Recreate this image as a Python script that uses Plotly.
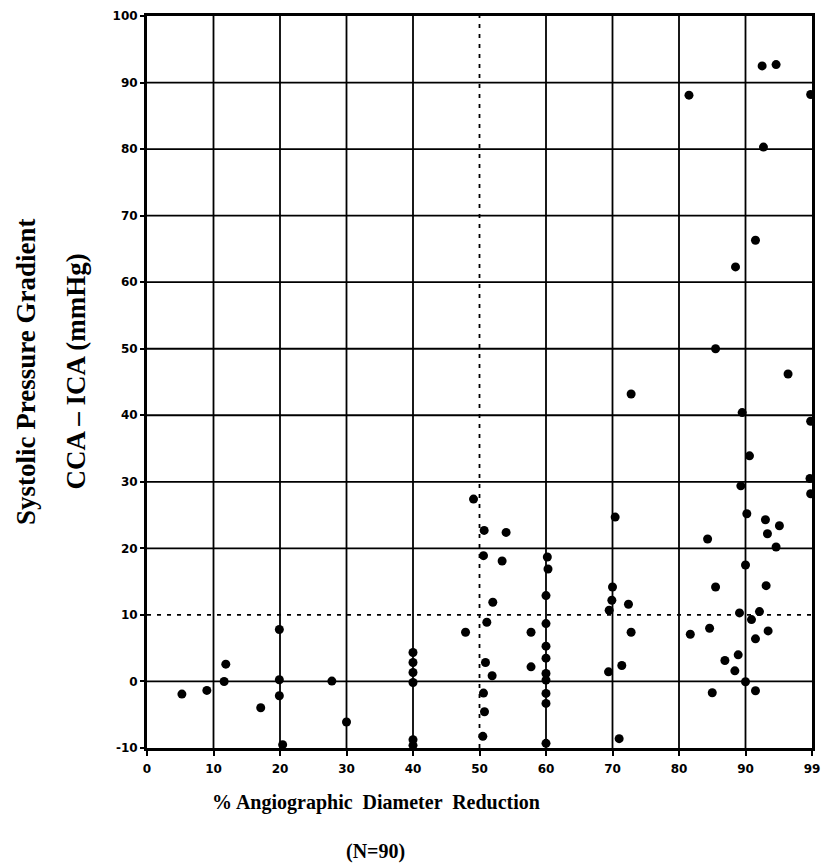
import plotly.graph_objects as go

# % angiographic diameter reduction (axis position; 100 is the "99" label)
diameter_reduction = [
    5.25, 9.0, 11.85, 11.6, 17.1, 19.9, 19.9, 19.9, 20.4, 27.8, 30.0,
    40.0, 40.0, 40.0, 40.0, 40.0, 40.0,
    47.9, 49.1, 50.7, 54.0, 50.6, 53.4, 52.0, 51.1, 50.9, 51.9, 50.6, 50.75, 50.5, 57.75, 57.75,
    60.2, 60.3, 60.0, 60.0, 60.0, 60.0, 60.0, 60.0, 60.0, 60.0, 60.0,
    70.4, 70.0, 69.9, 69.5, 72.4, 72.8, 71.4, 69.4, 71.0, 72.8,
    81.5, 99.8, 92.5, 94.6, 92.7, 91.5, 88.5, 85.5, 96.4, 89.5, 99.8, 90.6, 99.7, 89.3, 99.8,
    90.2, 93.0, 95.1, 93.3, 94.6, 84.3, 90.0, 93.1, 85.5, 81.7, 84.6, 85.0, 86.9, 88.4, 88.9,
    89.1, 90.0, 91.5, 91.5, 90.9, 92.1, 93.4,
]
# Systolic pressure gradient CCA - ICA (mmHg)
pressure_gradient = [
    -1.9, -1.35, 2.6, 0.0, -3.95, 7.8, 0.25, -2.15, -9.5, 0.05, -6.1,
    4.35, 2.85, 1.35, -0.15, -8.75, -9.6,
    7.4, 27.4, 22.7, 22.4, 18.9, 18.1, 11.9, 8.9, 2.85, 0.85, -1.75, -4.55, -8.25, 7.4, 2.2,
    18.7, 16.9, 12.9, 8.7, 5.3, 3.5, 1.2, 0.2, -1.8, -3.3, -9.3,
    24.7, 14.2, 12.2, 10.7, 11.6, 7.4, 2.4, 1.45, -8.6, 43.2,
    88.1, 88.2, 92.5, 92.7, 80.3, 66.3, 62.3, 50.0, 46.2, 40.4, 39.1, 33.9, 30.5, 29.4, 28.2,
    25.2, 24.3, 23.4, 22.2, 20.2, 21.4, 17.5, 14.4, 14.2, 7.1, 8.0, -1.7, 3.15, 1.6, 4.0,
    10.3, -0.05, -1.4, 6.4, 9.3, 10.5, 7.6,
]

x_tick_vals = [0, 10, 20, 30, 40, 50, 60, 70, 80, 90, 100]
x_tick_text = ["0", "10", "20", "30", "40", "50", "60", "70", "80", "90", "99"]
y_tick_vals = [-10, 0, 10, 20, 30, 40, 50, 60, 70, 80, 90, 100]
y_tick_text = ["-10", "0", "10", "20", "30", "40", "50", "60", "70", "80", "90", "100"]

x_grid_solid = [10, 20, 30, 40, 60, 70, 80, 90]
x_grid_dashed = [50]
y_grid_solid = [0, 20, 30, 40, 50, 60, 70, 80, 90]
y_grid_dashed = [10]

fig = go.Figure()
fig.add_trace(go.Scatter(
    x=diameter_reduction, y=pressure_gradient, mode="markers",
    marker=dict(color="black", size=9, line=dict(width=0)),
    showlegend=False, hoverinfo="x+y",
))

shapes = []
for v in x_grid_solid:
    shapes.append(dict(type="line", xref="x", yref="paper", x0=v, x1=v, y0=0, y1=1,
                       line=dict(color="black", width=1.8), layer="below"))
for v in x_grid_dashed:
    shapes.append(dict(type="line", xref="x", yref="paper", x0=v, x1=v, y0=0, y1=1,
                       line=dict(color="black", width=1.8, dash="4px,6px"), layer="below"))
for v in y_grid_solid:
    shapes.append(dict(type="line", xref="paper", yref="y", x0=0, x1=1, y0=v, y1=v,
                       line=dict(color="black", width=1.8), layer="below"))
for v in y_grid_dashed:
    shapes.append(dict(type="line", xref="paper", yref="y", x0=0, x1=1, y0=v, y1=v,
                       line=dict(color="black", width=1.8, dash="4px,6px"), layer="below"))

tick_font = dict(family="DejaVu Sans", size=12, color="black", weight="bold")

fig.update_layout(
    width=821, height=865,
    margin=dict(l=147, r=9, t=16, b=117),
    paper_bgcolor="white", plot_bgcolor="white",
    shapes=shapes,
    xaxis=dict(
        range=[0, 100], tickmode="array", tickvals=x_tick_vals, ticktext=x_tick_text,
        showgrid=False, zeroline=False, showline=True, linewidth=3, linecolor="black",
        mirror=True, ticks="outside", ticklen=5, tickwidth=1.5, tickcolor="black",
        tickfont=tick_font, ticklabelstandoff=3, automargin=False,
        ticklabeloverflow="allow",
    ),
    yaxis=dict(
        range=[-10, 100], tickmode="array", tickvals=y_tick_vals, ticktext=y_tick_text,
        showgrid=False, zeroline=False, showline=True, linewidth=3, linecolor="black",
        mirror=True, ticks="outside", ticklen=4, tickwidth=1.5, tickcolor="black",
        tickfont=tick_font, automargin=False, ticklabeloverflow="allow",
    ),
    annotations=[
        dict(text="<b>% Angiographic  Diameter  Reduction</b>", xref="paper", yref="paper",
             x=0.344, y=-0.075, xanchor="center", yanchor="middle", showarrow=False,
             font=dict(family="Liberation Serif", size=20, color="black")),
        dict(text="<b>(N=90)</b>", xref="paper", yref="paper",
             x=0.344, y=-0.142, xanchor="center", yanchor="middle", showarrow=False,
             font=dict(family="Liberation Serif", size=20, color="black")),
        dict(text="<b>Systolic Pressure Gradient</b>", xref="paper", yref="paper",
             x=-0.183, y=0.514, xanchor="center", yanchor="middle", showarrow=False,
             textangle=-90, font=dict(family="Liberation Serif", size=27, color="black")),
        dict(text="<b>CCA – ICA (mmHg)</b>", xref="paper", yref="paper",
             x=-0.107, y=0.514, xanchor="center", yanchor="middle", showarrow=False,
             textangle=-90, font=dict(family="Liberation Serif", size=27, color="black")),
    ],
)

# Remove the default page margin so the 821x865 figure fills the window exactly.
fig.write_html(
    "out.html",
    config={"displayModeBar": False},
    post_script=(
        "document.documentElement.style.margin='0';"
        "document.documentElement.style.overflow='hidden';"
        "document.body.style.margin='0';"
        "document.body.style.overflow='hidden';"
    ),
)
